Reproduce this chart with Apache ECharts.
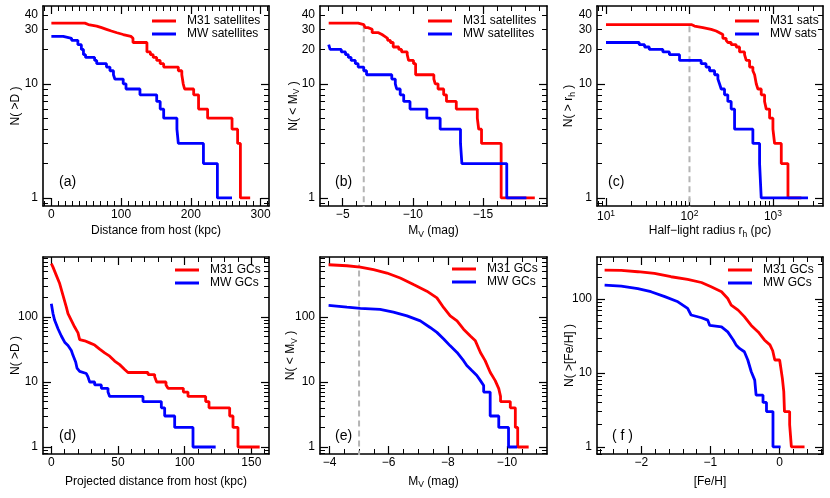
<!DOCTYPE html>
<html>
<head>
<meta charset="utf-8">
<script src="https://cdn.jsdelivr.net/npm/echarts@6/dist/echarts.min.js"></script>
<style>
  html, body { margin: 0; padding: 0; background: #fff; }
  #main { width: 830px; height: 498px; }
</style>
</head>
<body>
<div id="main"></div>
<script>
const FONT = '"Liberation Sans", Arial, Helvetica, sans-serif'
const RED = '#ff0000'
const BLUE = '#0000ff'
const GREY = '#b4b4b4'

// (a) satellites, N(>D) vs distance from host (kpc)
const aM31X = [0, 48, 53, 65, 72, 79, 86, 94, 103, 114, 117, 137, 142, 146, 151, 156, 161, 182, 187, 189, 191, 204, 211, 224, 259, 267, 271, 285]
const aM31N = [34, 33, 32, 31, 30, 29, 28, 27, 26, 25, 23, 19, 18, 17, 16, 15, 14, 13, 12, 10, 9, 8, 6, 5, 4, 3, 1, 1]
const aMWX = [0, 17, 29, 38, 43, 46, 49, 62, 65, 79, 84, 89, 91, 103, 107, 127, 151, 156, 161, 180, 182, 218, 238, 259]
const aMWN = [26, 25, 24, 22, 20, 18, 17, 16, 15, 14, 13, 12, 11, 10, 9, 8, 7, 6, 5, 4, 3, 2, 1, 1]

// (b) satellites, N(<Mv) vs Mv
const bM31X = [-4.0, -6.1, -6.5, -6.6, -6.8, -7.1, -7.55, -7.8, -8.0, -8.2, -8.4, -8.6, -9.0, -9.2, -9.6, -9.7, -10.05, -10.2, -11.5, -11.6, -11.8, -12.2, -12.4, -13.1, -14.6, -14.7, -14.9, -16.3, -18.7]
const bM31N = [34, 33, 32, 31, 30, 28, 27, 26, 25, 24, 23, 21, 20, 19, 18, 16, 15, 12, 11, 10, 9, 8, 7, 6, 5, 4, 3, 1, 1]
const bMWX = [-4.0, -4.1, -4.9, -5.2, -5.4, -5.6, -5.9, -6.1, -6.5, -6.7, -8.5, -8.75, -8.85, -9.1, -9.35, -9.8, -11.0, -11.95, -13.4, -13.5, -16.7, -18.1]
const bMWN = [22, 20, 19, 18, 17, 16, 15, 14, 13, 12, 11, 10, 9, 8, 7, 6, 5, 4, 3, 2, 1, 1]
const bCut = [-6.5, 33]

// (c) satellites, N(>rh) vs half-light radius (pc)
const cM31X = [10, 105, 115, 145, 182, 209, 229, 251, 275, 288, 316, 363, 398, 457, 479, 525, 575, 603, 631, 661, 724, 794, 832, 912, 1000, 1047, 1259, 1514, 2190]
const cM31N = [33, 32, 31, 30, 29, 28, 27, 25, 24, 23, 22, 21, 19, 18, 16, 14, 13, 12, 10, 9, 8, 7, 6, 5, 4, 3, 2, 1, 1]
const cMWX = [10, 25, 29, 33, 48, 57.5, 76, 138, 158, 174, 200, 219, 229, 240, 263, 288, 316, 347, 575, 692, 724, 2630]
const cMWN = [23, 22, 21, 20, 19, 18, 16, 15, 14, 13, 12, 11, 10, 9, 8, 7, 6, 4, 3, 2, 1, 1]
const cCut = [100, 33]

// (d) GCs, N(>D) vs projected distance (kpc)
const dM31X = [0, 1.25, 3.75, 6.25, 8.75, 11.25, 12.5, 15, 17.5, 20, 21.25, 25, 28.75, 32.5, 36.25, 40, 43.75, 47.5, 51.25, 55, 57.5, 72.5, 72.5, 77.5, 77.5, 79, 79, 86, 86, 87.5, 87.5, 99, 99, 102.5, 102.5, 115.75, 115.75, 118.25, 118.25, 133.75, 133.75, 136.25, 136.25, 140, 140, 156.25]
const dM31N = [661, 585, 437, 327, 215, 142, 113, 89, 70, 57, 45, 43, 40, 37, 32, 28, 25, 21, 18.5, 15.6, 14, 14, 13, 13, 12, 12, 10, 10, 9, 9, 8, 8, 7, 7, 6, 6, 5, 5, 4, 4, 3, 3, 2, 2, 1, 1]
const dMWX = [0, 1.25, 2.5, 5, 7.5, 10, 12.5, 15, 16.25, 18.25, 19.25, 21.25, 26.25, 27.5, 28.75, 32.5, 32.5, 37.5, 37.5, 42.5, 42.5, 43.75, 43.75, 68.75, 68.75, 82.5, 82.5, 85, 85, 92.5, 92.5, 106.25, 106.25, 123.25]
const dMWN = [160, 113, 89, 66, 51, 41, 36.5, 30.6, 25.7, 20.3, 16.4, 14.6, 13.5, 12, 10, 10, 9, 9, 8, 8, 7, 7, 6, 6, 5, 5, 4, 4, 3, 3, 2, 2, 1, 1]

// (e) GCs, N(<Mv) vs Mv
const eM31X = [-3.97, -4.59, -5.04, -5.49, -5.94, -6.39, -6.84, -7.29, -7.63, -7.86, -8.08, -8.31, -8.53, -8.76, -8.93, -9.1, -9.26, -9.43, -9.6, -9.72, -9.78, -9.78, -10.11, -10.11, -10.28, -10.28, -10.36, -10.36, -10.73]
const eM31N = [637, 615, 587, 534, 475, 399, 315, 250, 197, 139, 104, 87, 65, 51, 43, 28.5, 21.3, 14.1, 10.5, 7.9, 6, 5, 5, 4, 4, 2, 2, 1, 1]
const eMWX = [-3.97, -4.59, -5.04, -5.71, -6.16, -6.62, -7.07, -7.4, -7.63, -7.86, -8.08, -8.31, -8.53, -8.64, -8.81, -8.98, -9.1, -9.21, -9.21, -9.43, -9.43, -9.72, -9.72, -10.05, -10.05, -10.34]
const eMWN = [151, 142, 136, 131, 119, 104, 87, 69, 58, 46, 36, 28.5, 21.3, 17.9, 15, 12.6, 10.5, 8.8, 7, 7, 3, 3, 2, 2, 1, 1]
const eCut = [-5, 640]

// (f) GCs, N(>[Fe/H]) vs [Fe/H]
const fM31X = [-2.53, -2.29, -2.05, -1.81, -1.57, -1.33, -1.13, -0.99, -0.84, -0.75, -0.70, -0.60, -0.51, -0.41, -0.31, -0.22, -0.14, -0.10, -0.07, 0.0, 0.01, 0.04, 0.06, 0.07, 0.145, 0.145, 0.17, 0.17, 0.36]
const fM31N = [247, 245, 235, 223, 201, 185, 168, 147, 126, 102, 83, 71, 58, 44, 36, 28, 24, 20, 15, 15, 13, 8.4, 5.6, 3, 3, 2, 2, 1, 1]
const fMWX = [-2.53, -2.29, -2.05, -1.86, -1.66, -1.47, -1.33, -1.28, -1.13, -1.04, -1.01, -0.84, -0.75, -0.67, -0.63, -0.58, -0.51, -0.46, -0.41, -0.36, -0.34, -0.24, -0.24, -0.19, -0.19, -0.096, -0.096, 0.014]
const fMWN = [155, 150, 139, 126, 108, 92, 75, 61, 56, 52, 44, 42, 36, 28, 24, 21.5, 19.4, 15, 10.4, 8, 5, 5, 4, 4, 3, 3, 1, 1]

// tick labels
const xLabA = [0, 100, 200, 300]
const xLabB = [-5, -10, -15]
const xLabC = [10, 100, 1000]
const xLabD = [0, 50, 100, 150]
const xLabE = [-4, -6, -8, -10]
const xLabF = [-2, -1, 0]
const yLabA = [1, 10, 30, 40]
const yLabTop = [1, 10, 20, 30, 40]
const yLabBot = [1, 10, 100]

//线性刻度：a 到 b，步长 step，去掉主刻度
function range(a, b, step, skip) {
    const out = []
    const n = Math.round((b - a) / step)
    for (let i = 0; i <= n; i++) {
        const v = +(a + i * step).toFixed(4)
        if (!skip || skip.indexOf(v) < 0) out.push(v)
    }
    return out
}
//对数次刻度 2..9 × 10^k
function logMinor(lo, hi) {
    const out = []
    for (let k = -1; k <= 4; k++) {
        for (let m = 2; m <= 9; m++) {
            const v = m * Math.pow(10, k)
            if (v >= lo && v <= hi) out.push(+v.toFixed(4))
        }
    }
    return out
}
const pairs = (xs, ys) => xs.map((x, i) => [x, ys[i]])
const cutLine = (c) => [[c[0], 0.5], [c[0], c[1]]]
const minus = (v) => String(v).replace('-', '\u2212')
const intLabel = (v) => String(Math.round(v))
const powLabel = (v) => '{b|10}{p|' + Math.round(Math.log10(v)) + '}'

const LABEL = { color: '#000', fontSize: 12, fontFamily: FONT }
const NAME = {
    color: '#000', fontSize: 12, fontFamily: FONT,
    rich: { s: { color: '#000', fontSize: 8.5, fontFamily: FONT, padding: [7, 0, 0, 0] } }
}

const panels = [
    {
        grid: { left: 43, top: 6, width: 226, height: 200 },
        x: { type: 'value', min: -12, max: 312, major: xLabA, minor: range(-10, 310, 10, xLabA), labels: xLabA, fmt: minus, name: 'Distance from host (kpc)', gap: 19 },
        y: { min: 0.85, max: 48, major: [1, 10], minor: logMinor(0.85, 48), labels: yLabA, name: 'N( >D )', gap: 21 },
        legend: { left: 152, top: 15, names: ['M31 satellites', 'MW satellites'] },
        tag: { text: '(a)', left: 59, top: 175 },
        series: [
            { name: 'M31 satellites', color: RED, data: pairs(aM31X, aM31N), step: 'end' },
            { name: 'MW satellites', color: BLUE, data: pairs(aMWX, aMWN), step: 'end' }
        ]
    },
    {
        grid: { left: 320, top: 6, width: 227, height: 200 },
        x: { type: 'value', min: -19.57, max: -3.38, inverse: true, major: xLabB, minor: range(-19, -4, 1, xLabB), labels: xLabB, fmt: minus, name: 'M{s|V} (mag)', gap: 17 },
        y: { min: 0.85, max: 48, major: [1, 10], minor: logMinor(0.85, 48), labels: yLabTop, name: 'N( < M{s|V} )', gap: 18.5 },
        legend: { left: 428, top: 15, names: ['M31 satellites', 'MW satellites'] },
        tag: { text: '(b)', left: 335, top: 175 },
        series: [
            { name: 'cutB', color: GREY, data: cutLine(bCut), dash: true },
            { name: 'M31 satellites', color: RED, data: pairs(bM31X, bM31N), step: 'end' },
            { name: 'MW satellites', color: BLUE, data: pairs(bMWX, bMWN), step: 'end' }
        ]
    },
    {
        grid: { left: 597, top: 6, width: 226, height: 200 },
        x: { type: 'log', min: 7.8, max: 3980, major: xLabC, minor: logMinor(7.8, 3980), labels: xLabC, fmt: powLabel, name: 'Half\u2212light radius r{s|h} (pc)', gap: 17 },
        y: { min: 0.85, max: 48, major: [1, 10], minor: logMinor(0.85, 48), labels: yLabTop, name: 'N( > r{s|h} )', gap: 20 },
        legend: { left: 735, top: 15, names: ['M31 sats', 'MW sats'] },
        tag: { text: '(c)', left: 608, top: 175 },
        series: [
            { name: 'cutC', color: GREY, data: cutLine(cCut), dash: true },
            { name: 'M31 sats', color: RED, data: pairs(cM31X, cM31N), step: 'end' },
            { name: 'MW sats', color: BLUE, data: pairs(cMWX, cMWN), step: 'end' }
        ]
    },
    {
        grid: { left: 43, top: 257, width: 226, height: 197 },
        x: { type: 'value', min: -6.25, max: 163.25, major: xLabD, minor: range(10, 160, 10, xLabD), labels: xLabD, fmt: minus, name: 'Projected distance from host (kpc)', gap: 22 },
        y: { min: 0.78, max: 838, major: [1, 10, 100], minor: logMinor(0.78, 838), labels: yLabBot, name: 'N( >D )', gap: 21 },
        legend: { left: 175, top: 264, names: ['M31 GCs', 'MW GCs'] },
        tag: { text: '(d)', left: 59, top: 429 },
        series: [
            { name: 'M31 GCs', color: RED, data: pairs(dM31X, dM31N) },
            { name: 'MW GCs', color: BLUE, data: pairs(dMWX, dMWN) }
        ]
    },
    {
        grid: { left: 320, top: 257, width: 227, height: 197 },
        x: { type: 'value', min: -11.35, max: -3.68, inverse: true, major: xLabE, minor: range(-11, -4.5, 0.5, xLabE), labels: xLabE, fmt: minus, name: 'M{s|V} (mag)', gap: 19.5 },
        y: { min: 0.78, max: 838, major: [1, 10, 100], minor: logMinor(0.78, 838), labels: yLabBot, name: 'N( < M{s|V} )', gap: 21 },
        legend: { left: 452, top: 263, names: ['M31 GCs', 'MW GCs'] },
        tag: { text: '(e)', left: 335, top: 429 },
        series: [
            { name: 'cutE', color: GREY, data: cutLine(eCut), dash: true },
            { name: 'M31 GCs', color: RED, data: pairs(eM31X, eM31N) },
            { name: 'MW GCs', color: BLUE, data: pairs(eMWX, eMWN) }
        ]
    },
    {
        grid: { left: 597, top: 257, width: 226, height: 197 },
        x: { type: 'value', min: -2.64, max: 0.627, major: xLabF, minor: range(-2.6, 0.6, 0.2, xLabF), labels: xLabF, fmt: minus, name: '[Fe/H]', gap: 22 },
        y: { min: 0.8, max: 372, major: [1, 10, 100], minor: logMinor(0.8, 372), labels: yLabBot, name: 'N( >[Fe/H] )', gap: 21 },
        legend: { left: 728, top: 264, names: ['M31 GCs', 'MW GCs'] },
        tag: { text: '( f )', left: 612, top: 429 },
        series: [
            { name: 'M31 GCs', color: RED, data: pairs(fM31X, fM31N) },
            { name: 'MW GCs', color: BLUE, data: pairs(fMWX, fMWN) }
        ]
    }
]

//每个面板四根轴：主刻度(两侧) + 次刻度(两侧)
function makeAxes(dim, gi, c) {
    const sides = dim === 'x' ? ['bottom', 'top'] : ['left', 'right']
    const base = {
        type: c.type || 'log', min: c.min, max: c.max, inverse: !!c.inverse,
        gridIndex: gi, splitLine: { show: false }, axisPointer: { show: false }
    }
    if (base.type === 'log') base.logBase = 10
    const out = []
    sides.forEach((pos, k) => {
        out.push(Object.assign({}, base, {
            position: pos,
            name: k === 0 ? c.name : '',
            nameLocation: 'middle',
            nameGap: c.gap,
            nameMoveOverlap: false,
            nameTextStyle: NAME,
            axisLine: { show: true, onZero: false, lineStyle: { color: '#000', width: 1.6 } },
            axisTick: { show: true, inside: true, length: 8, customValues: c.major, lineStyle: { color: '#000', width: 1.2 } },
            axisLabel: Object.assign({
                show: k === 0, customValues: c.labels,
                formatter: dim === 'y' ? intLabel : c.fmt,
                margin: dim === 'x' ? 3 : 5,
                rich: {
                    b: { color: '#000', fontSize: 12, fontFamily: FONT },
                    p: { color: '#000', fontSize: 8.5, fontFamily: FONT, padding: [0, 0, 7, 0] }
                }
            }, LABEL)
        }))
    })
    sides.forEach((pos) => {
        out.push(Object.assign({}, base, {
            position: pos,
            axisLine: { show: false, onZero: false },
            axisTick: { show: true, inside: true, length: 5, customValues: c.minor, lineStyle: { color: '#000', width: 1 } },
            axisLabel: { show: false }
        }))
    })
    return out
}

const option = {
    animation: false,
    backgroundColor: '#fff',
    grid: [], xAxis: [], yAxis: [], legend: [], series: [], graphic: []
}

panels.forEach((p, gi) => {
    option.grid.push(Object.assign({ containLabel: false, outerBoundsMode: 'none' }, p.grid))
    option.xAxis.push(...makeAxes('x', gi, p.x))
    option.yAxis.push(...makeAxes('y', gi, p.y))
    option.legend.push({
        orient: 'vertical', left: p.legend.left, top: p.legend.top, padding: 0,
        itemGap: 1, itemWidth: 24, itemHeight: 3, icon: 'rect',
        selectedMode: false, data: p.legend.names,
        formatter: '{t|{name}}',
        textStyle: {
            color: '#000', fontSize: 12, fontFamily: FONT,
            rich: { t: { color: '#000', fontSize: 12, fontFamily: FONT, lineHeight: 14, padding: [0, 0, 0, 6] } }
        }
    })
    p.series.forEach((s) => {
        option.series.push({
            type: 'line', name: s.name,
            xAxisIndex: gi * 4, yAxisIndex: gi * 4,
            data: s.data, step: s.step || false,
            showSymbol: false, symbol: 'none', silent: true,
            lineStyle: { color: s.color, width: s.dash ? 2 : 2.8, type: s.dash ? [6, 4] : 'solid' },
            itemStyle: { color: s.color },
            emphasis: { disabled: true }
        })
    })
    option.graphic.push({
        type: 'text', left: p.tag.left, top: p.tag.top,
        style: { text: p.tag.text, fontSize: 14, fontFamily: FONT, fill: '#000' }
    })
})

const myChart = echarts.init(document.getElementById('main'))
myChart.setOption(option)
</script>
</body>
</html>
